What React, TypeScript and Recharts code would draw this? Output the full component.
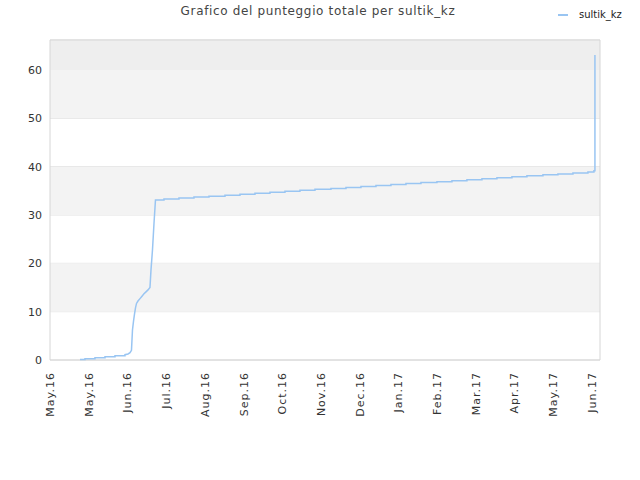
import React from 'react';
import { LineChart, Line, XAxis, YAxis, CartesianGrid, ReferenceArea } from 'recharts';

// x is measured in tick steps from the first "May.16" tick
const tickLabels = [
  'May.16', 'May.16', 'Jun.16', 'Jul.16', 'Aug.16', 'Sep.16', 'Oct.16', 'Nov.16',
  'Dec.16', 'Jan.17', 'Feb.17', 'Mar.17', 'Apr.17', 'May.17', 'Jun.17',
];

const times = [
  0.775, 0.904, 1.162, 1.421, 1.679, 1.937, 2.015, 2.067, 2.105, 2.131, 2.157, 2.183,
  2.209, 2.235, 2.273, 2.325, 2.377, 2.428, 2.48, 2.532, 2.583, 2.609, 2.648, 2.687,
  2.725, 2.945, 3.332, 3.72, 4.107, 4.521, 4.908, 5.296, 5.683, 6.071, 6.458, 6.846,
  7.259, 7.647, 8.034, 8.422, 8.809, 9.197, 9.584, 9.997, 10.385, 10.772, 11.16,
  11.547, 11.935, 12.322, 12.736, 13.123, 13.511, 13.898, 14.053, 14.079,
];

const scores = [
  0.1, 0.28, 0.48, 0.69, 0.9, 1.1, 1.25, 1.5, 2.0, 6.2, 8.0, 9.5,
  10.8, 11.7, 12.2, 12.7, 13.2, 13.7, 14.1, 14.5, 15.0, 18.6, 22.8, 28.3,
  33.1, 33.3, 33.5, 33.7, 33.9, 34.1, 34.3, 34.5, 34.7, 34.9, 35.1, 35.3,
  35.5, 35.7, 35.9, 36.1, 36.3, 36.5, 36.7, 36.9, 37.1, 37.3, 37.5,
  37.7, 37.9, 38.1, 38.3, 38.5, 38.7, 38.9, 39.15, 63.1,
];

// the steep stretch in June is drawn straight, everything else as steps
const smoothFrom = 6;
const smoothTo = 24;

const yTicks = [0, 10, 20, 30, 40, 50, 60];
const bands = [
  { from: 10, to: 20, fill: '#f3f3f3' },
  { from: 30, to: 40, fill: '#f3f3f3' },
  { from: 50, to: 60, fill: '#f3f3f3' },
  { from: 60, to: 66.2, fill: '#eeeeee' },
];

const data: { t: number; score: number }[] = [];
times.forEach((t, i) => {
  const stepped = i > 0 && (i < smoothFrom || i > smoothTo);
  if (stepped) data.push({ t, score: scores[i - 1] });
  data.push({ t, score: scores[i] });
});

const FONT = '"DejaVu Sans", sans-serif';

const XTick = (props: any) => {
  const { x, y, payload } = props;
  return (
    <g transform={`translate(${x},${y})`}>
      <text transform='rotate(-90)' x={-12} dy={4} textAnchor='end' fontSize={11} letterSpacing={1} fill='#333' fontFamily={FONT}>
        {tickLabels[payload.value]}
      </text>
    </g>
  );
};

const App: React.FC = () => {
  return (
    <div style={{ position: 'absolute', left: 0, top: 0, width: 640, height: 480, background: '#fff', fontFamily: FONT }}>
      <div style={{ position: 'absolute', top: 4, left: 0, width: 636, textAlign: 'center', fontSize: 12, letterSpacing: 0.65, color: '#444' }}>
        Grafico del punteggio totale per sultik_kz
      </div>
      <div style={{ position: 'absolute', top: 9, left: 558, display: 'flex', alignItems: 'center', fontSize: 10, color: '#222' }}>
        <span style={{ display: 'inline-block', width: 10, height: 2, background: '#99c5f2', marginRight: 11 }} />
        sultik_kz
      </div>
      <LineChart width={640} height={480} data={data} margin={{ top: 40, right: 40, bottom: 0, left: 0 }}>
        {bands.map((b) => (
          <ReferenceArea key={b.from} x1={0} x2={14.21} y1={b.from} y2={b.to} fill={b.fill} fillOpacity={1} stroke='none' ifOverflow='hidden' />
        ))}
        <CartesianGrid vertical={false} stroke='#e0e0e0' />
        <ReferenceArea x1={0} x2={14.21} y1={0} y2={66.2} fill='none' stroke='#d6d6d6' strokeWidth={1} ifOverflow='visible' />
        <XAxis
          dataKey='t'
          type='number'
          domain={[0, 14.21]}
          ticks={tickLabels.map((_, i) => i)}
          interval={0}
          height={120}
          tickSize={0}
          tickMargin={0}
          axisLine={false}
          tick={<XTick />}
        />
        <YAxis
          type='number'
          domain={[0, 66.2]}
          ticks={yTicks}
          width={50}
          axisLine={false}
          tickLine={false}
          tickSize={0}
          tickMargin={8}
          tick={{ fontSize: 11, fill: '#333', fontFamily: FONT }}
        />
        <Line type='linear' dataKey='score' stroke='#99c5f2' strokeWidth={1.5} dot={false} isAnimationActive={false} />
      </LineChart>
    </div>
  );
};

export default App;
